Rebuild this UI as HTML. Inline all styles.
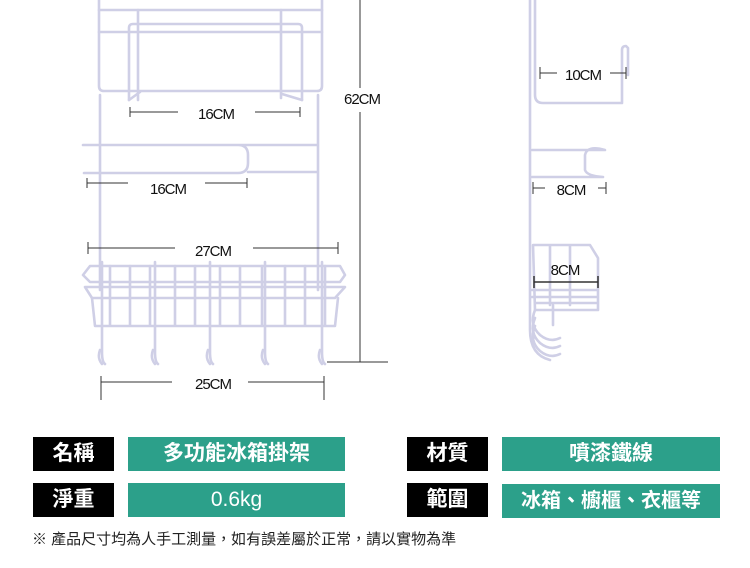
<!DOCTYPE html>
<html><head><meta charset="utf-8"><style>
body{margin:0;width:750px;height:568px;background:#fff;position:relative;overflow:hidden;font-family:"Liberation Sans","Noto Sans CJK TC",sans-serif}
svg{position:absolute;left:0;top:0}
.b{position:absolute;height:34px;color:#fff;font-size:21px;line-height:34px;text-align:center;font-family:"Liberation Sans","Noto Sans CJK TC",sans-serif;font-weight:bold}
.k{background:#000}.t{background:#2ca08a}
.note{position:absolute;left:32px;top:528px;font-size:15px;color:#222}
</style></head><body>
<svg width="750" height="430" viewBox="0 0 750 430">
<g fill="none" stroke="#cfcfe6" stroke-width="2.6" stroke-linecap="round" stroke-linejoin="round">
<path d="M99 0 V86 q0 5 5 5 H317 q5 0 5-5 V0"/>
<path d="M99 10 H322 M99 32 H322"/>
<path d="M129 100 V28 q0-4 4-4 H298 q4 0 4 4 V100"/>
<path d="M138 10 V100 M281 10 V98"/>
<path d="M129 100 L140 92 M302 100 L282 94"/>
<path d="M100 95 V290 M318 95 V290"/>
<path d="M83 145 H317 M84 173 H238 q10 0 10-10 V155 q0-10-10-10"/>
<path d="M248 172 H317"/>
<path d="M90 266 H340 L345 275 L340 282 H90 L83 275 Z"/>
<path d="M85 287 H345 L335 298 H92 Z"/>
<path d="M92 298 L95 326 H335 L338 298"/>
<path d="M110 266 V325 M130 266 V325 M150 266 V325 M175 266 V325 M195 266 V325 M220 266 V325 M240 266 V325 M262 266 V325 M285 266 V325 M305 266 V325 M325 266 V325"/>
<path d="M102 262 V352 q0 10 3 12 M155 262 V352 q0 10 3 12 M210 262 V352 q0 10 3 12 M265 262 V352 q0 10 3 12 M322 262 V352 q0 10 3 12"/>
<path d="M100 350 q-3 8 2 14 M153 350 q-3 8 2 14 M208 350 q-3 8 2 14 M263 350 q-3 8 2 14 M320 350 q-3 8 2 14"/>
<path d="M530 0 V330 q0 25 20 30"/>
<path d="M535 0 V95 q0 8 8 8 H622 V50 q0-4 4-4 L628 48 V75"/>
<path d="M532 150 H605 q-18 -5 -20 5 V170 q2 6 18 7 M532 177 H603"/>
<path d="M533 245 H590 L598 258 V310 H535 Z M550 245 V305 M570 245 V305 M532 290 H598 M532 297 H598 M535 303 H598"/>
<path d="M535 310 q-6 15 5 25 q10 8 20 3 M535 318 q-6 15 5 25 q10 8 20 3 M535 326 q-6 15 5 25 q10 8 20 3 M553 305 V325"/>
</g>
<g stroke="#333" stroke-width="1" fill="none">
<path d="M130 112 H178 M255 112 H300 M130 107 V117 M300 107 V117"/>
<path d="M87 183 H128 M205 183 H247 M87 178 V188 M247 178 V188"/>
<path d="M88 248 H175 M253 248 H338 M88 242 V254 M338 242 V254"/>
<path d="M101 382 H172 M248 382 H324 M101 376 V400 M324 376 V400"/>
<path d="M360 0 V88 M360 112 V362 M327 362 H388"/>
<path d="M540 73 H557 M610 73 H626 M540 67 V79 M626 67 V79"/>
<path d="M533 188 H545 M598 188 H606 M533 182 V194 M606 182 V194"/>
<path d="M534 282 H598 M534 276 V288 M598 276 V288" stroke-width="1.5"/>
</g>
<g font-family="Liberation Sans, sans-serif" font-size="15" fill="#111" text-anchor="middle" letter-spacing="-1">
<text x="216" y="119">16CM</text>
<text x="168" y="194">16CM</text>
<text x="213" y="256">27CM</text>
<text x="213" y="389">25CM</text>
<text x="362" y="104">62CM</text>
<text x="583" y="80">10CM</text>
<text x="571" y="195">8CM</text>
<text x="565" y="275">8CM</text>
</g>
</svg>
<div class="b k" style="left:33px;top:437px;width:81px">名稱</div>
<div class="b t" style="left:128px;top:437px;width:217px">多功能冰箱掛架</div>
<div class="b k" style="left:407px;top:437px;width:81px">材質</div>
<div class="b t" style="left:502px;top:437px;width:218px">噴漆鐵線</div>
<div class="b k" style="left:33px;top:483px;width:81px">淨重</div>
<div class="b t" style="left:128px;top:483px;width:217px;font-weight:normal">0.6kg</div>
<div class="b k" style="left:407px;top:483px;width:81px">範圍</div>
<div class="b t" style="left:502px;top:484px;width:218px;font-size:20px">冰箱、櫥櫃、衣櫃等</div>
<div class="note">※ 產品尺寸均為人手工測量，如有誤差屬於正常，請以實物為準</div>
</body></html>
